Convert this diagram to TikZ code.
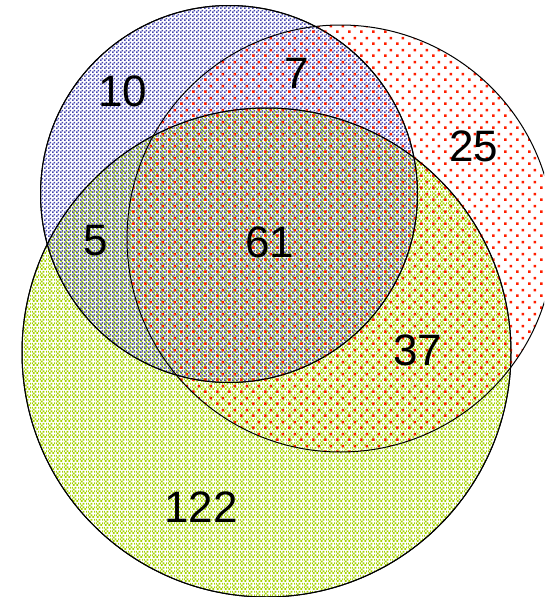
\documentclass[tikz,border=0pt]{standalone}
\usepackage{fontspec}
\setmainfont{Liberation Sans}
\usetikzlibrary{patterns.meta}
\definecolor{bluec}{RGB}{70,70,175}
\definecolor{redc}{RGB}{255,30,0}
\definecolor{greenc}{RGB}{165,210,0}
\tikzdeclarepattern{name=chk,type=uncolored,
  bottom left={(0pt,0pt)},top right={(4pt,4pt)},tile size={(4pt,4pt)},
  code={\fill (0pt,0pt) rectangle (2pt,2pt); \fill (2pt,2pt) rectangle (4pt,4pt);}}
\tikzdeclarepattern{name=gchk,type=uncolored,
  bottom left={(0pt,0pt)},top right={(8pt,8pt)},tile size={(8pt,8pt)},
  code={\fill (1pt,0pt) rectangle (3pt,2pt); \fill (5pt,0pt) rectangle (7pt,2pt);
        \fill (3pt,2pt) rectangle (5pt,4pt); \fill (7pt,2pt) rectangle (8pt,4pt);
        \fill (0pt,2pt) rectangle (1pt,4pt);
        \fill (1pt,4pt) rectangle (3pt,6pt);
        \fill (3pt,6pt) rectangle (5pt,8pt); \fill (7pt,6pt) rectangle (8pt,8pt);
        \fill (0pt,6pt) rectangle (1pt,8pt);}}
\tikzdeclarepattern{name=sparse,type=uncolored,
  bottom left={(0pt,0pt)},top right={(12pt,12pt)},tile size={(12pt,12pt)},
  code={\fill (0pt,0pt) rectangle (2.8pt,2.8pt); \fill (6pt,6pt) rectangle (8.8pt,8.8pt);}}
\tikzset{
  setc/.style={circle,draw=black,line width=1pt,inner sep=0pt,outer sep=0pt},
  num/.style={font=\fontsize{44}{44}\selectfont,inner sep=0pt}
}
\begin{document}
\begin{tikzpicture}[x=1pt,y=-1pt]
\useasboundingbox (0,0) rectangle (544,597);
\begin{scope}
\clip (0,0) rectangle (544,597);
\node[setc,minimum size=489pt,pattern={gchk},pattern color=greenc] (G) at (266.5,352.5) {};
\node[setc,minimum size=377pt,pattern={chk},pattern color=bluec] (B) at (229,194) {};
\node[setc,minimum size=427pt,pattern={sparse},pattern color=redc] (R) at (340.5,238.5) {};
\node[setc,minimum size=489pt] (G2) at (266.5,352.5) {};
\node[setc,minimum size=377pt] (B2) at (229,194) {};
\end{scope}
\node[num] (n10) at (123,91) {10};
\node[num] (n7) at (297,73) {7};
\node[num] (n25) at (474,146) {25};
\node[num] (n5) at (96,241) {5};
\node[num] (n61) at (270,242) {61};
\node[num] (n37) at (418,350) {37};
\node[num] (n122) at (201,507) {122};
\end{tikzpicture}
\end{document}
